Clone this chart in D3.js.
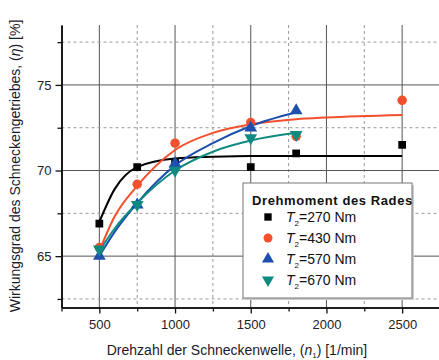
<!DOCTYPE html>
<html>
<head>
<meta charset="utf-8">
<script src="https://cdn.jsdelivr.net/npm/d3@7"></script>
<style>
  body { margin: 0; background: #fff; }
  svg { display: block; font-family: "Liberation Sans", Arial, sans-serif; }
</style>
</head>
<body>
<svg id="chart" width="439" height="360"></svg>
<script>
// measured points
var speeds = [500, 750, 1000, 1500, 1800, 2500];
var t270 = [66.9, 70.2, 70.5, 70.2, 71.0, 71.5];
var t430 = [65.5, 69.2, 71.6, 72.8, 72.0, 74.1];
var t570 = [65.0, 68.0, 70.4, 72.5, 73.5];
var t670 = [65.4, 68.0, 70.0, 71.9, 72.1];

// fitted curves
var fitX = [500, 600, 750, 1000, 1250, 1500, 1800, 2000, 2500];
var fit270 = [67.0, 68.9, 70.2, 70.7, 70.8, 70.85, 70.85, 70.85, 70.85];
var fit430 = [65.3, 67.3, 69.1, 71.2, 72.2, 72.7, 73.0, 73.1, 73.25];
var fit570 = [65.0, 66.4, 68.1, 70.3, 71.6, 72.6, 73.4];
var fit670 = [65.3, 66.6, 68.1, 70.0, 71.1, 71.75, 72.2];

var xTicks = [500, 1000, 1500, 2000, 2500];
var xMinor = [250, 750, 1250, 1750, 2250, 2750];
var yTicks = [65, 70, 75];
var yMinor = [62.5, 67.5, 72.5, 77.5];

var series = [
  {label: "270", pts: t270, fit: fit270, color: "#000000", sym: d3.symbolSquare, size: 60, rot: 0},
  {label: "430", pts: t430, fit: fit430, color: "#f2502d", sym: d3.symbolCircle, size: 70, rot: 0},
  {label: "570", pts: t570, fit: fit570, color: "#1c4fae", sym: d3.symbolTriangle, size: 70, rot: 0},
  {label: "670", pts: t670, fit: fit670, color: "#0f8a80", sym: d3.symbolTriangle, size: 70, rot: 180}
];

var svg = d3.select("#chart"),
    mLeft = 61.5, mRight = 440, mTop = 25, mBottom = 307.5;

var x = d3.scaleLinear().domain([250, 2750]).range([mLeft, mRight]);
var y = d3.scaleLinear().domain([62, 78.5]).range([mBottom, mTop]);

// grid
var grid = svg.append("g");
grid.selectAll(".vmaj").data(xTicks).enter().append("line")
  .attr("x1", d => x(d)).attr("x2", d => x(d))
  .attr("y1", mTop).attr("y2", mBottom)
  .attr("stroke", "#555").attr("stroke-width", 1);
grid.selectAll(".vmin").data(xMinor.slice(1)).enter().append("line")
  .attr("x1", d => x(d)).attr("x2", d => x(d))
  .attr("y1", mTop).attr("y2", mBottom)
  .attr("stroke", "#999").attr("stroke-width", 1).attr("stroke-dasharray", "3,3");
grid.selectAll(".hmaj").data(yTicks).enter().append("line")
  .attr("x1", mLeft).attr("x2", mRight)
  .attr("y1", d => y(d)).attr("y2", d => y(d))
  .attr("stroke", "#555").attr("stroke-width", 1);
grid.selectAll(".hmin").data(yMinor).enter().append("line")
  .attr("x1", mLeft).attr("x2", mRight)
  .attr("y1", d => y(d)).attr("y2", d => y(d))
  .attr("stroke", "#999").attr("stroke-width", 1).attr("stroke-dasharray", "3,3");

// axes
svg.append("g")
  .attr("transform", "translate(0," + mBottom + ")")
  .call(d3.axisBottom(x).tickValues(xTicks).tickFormat(d3.format("d")).tickSize(6).tickSizeOuter(0).tickPadding(6));
svg.append("g")
  .attr("transform", "translate(0," + mBottom + ")")
  .call(d3.axisBottom(x).tickValues(xMinor).tickSize(4).tickFormat("").tickSizeOuter(0));
var yAxis = svg.append("g")
  .attr("transform", "translate(" + mLeft + ",0)")
  .call(d3.axisLeft(y).tickValues(yTicks).tickSize(6).tickSizeOuter(0).tickPadding(4));
svg.append("g")
  .attr("transform", "translate(" + mLeft + ",0)")
  .call(d3.axisLeft(y).tickValues(yMinor).tickSize(4).tickFormat("").tickSizeOuter(0));

svg.selectAll(".domain").attr("stroke", "#111").attr("stroke-width", 1.6);
svg.selectAll(".tick line").attr("stroke", "#111").attr("stroke-width", 1.3);
svg.selectAll(".tick text").attr("font-size", 13).attr("fill", "#222")
  .attr("font-family", "Liberation Sans, Arial, sans-serif");

// curves
var line = d3.line().curve(d3.curveMonotoneX);
series.forEach(function(s) {
  svg.append("path")
    .datum(s.fit.map((v, i) => [x(fitX[i]), y(v)]))
    .attr("fill", "none").attr("stroke", s.color).attr("stroke-width", 2)
    .attr("d", line);
});

// markers
series.forEach(function(s) {
  svg.append("g").selectAll("path").data(s.pts).enter().append("path")
    .attr("d", d3.symbol().type(s.sym).size(s.size))
    .attr("transform", (d, i) => "translate(" + x(speeds[i]) + "," + y(d) + ") rotate(" + s.rot + ")")
    .attr("fill", s.color);
});

// legend
var lg = svg.append("g").attr("transform", "translate(243,183)");
lg.append("rect").attr("x", 2).attr("y", 2).attr("width", 169).attr("height", 115).attr("fill", "#ccc");
lg.append("rect").attr("width", 169).attr("height", 115)
  .attr("fill", "#fff").attr("stroke", "#777").attr("stroke-width", 1);
lg.append("text").attr("x", 9).attr("y", 22)
  .attr("font-size", 13).attr("font-weight", "bold").attr("letter-spacing", 0.6)
  .attr("fill", "#111").text("Drehmoment des Rades");
series.forEach(function(s, i) {
  var yy = 34 + i * 21;
  lg.append("path")
    .attr("d", d3.symbol().type(s.sym).size(s.size * 0.9))
    .attr("transform", "translate(25," + yy + ") rotate(" + s.rot + ")")
    .attr("fill", s.color);
  var t = lg.append("text").attr("x", 43).attr("y", yy + 5).attr("font-size", 14).attr("fill", "#111");
  t.append("tspan").attr("font-style", "italic").text("T");
  t.append("tspan").attr("font-size", 8).attr("dy", 4).text("2");
  t.append("tspan").attr("dy", -4).text("=" + s.label + " Nm");
});

// axis titles
var xt = svg.append("text").attr("x", 237).attr("y", 355)
  .attr("text-anchor", "middle").attr("font-size", 14).attr("fill", "#1a1a2a");
xt.append("tspan").text("Drehzahl der Schneckenwelle, (");
xt.append("tspan").attr("font-style", "italic").text("n");
xt.append("tspan").attr("font-size", 8).attr("dy", 3).text("1");
xt.append("tspan").attr("dy", -3).text(") [1/min]");

var yt = svg.append("text")
  .attr("transform", "translate(20,166) rotate(-90)")
  .attr("text-anchor", "middle").attr("font-size", 14).attr("fill", "#1a1a2a");
yt.append("tspan").text("Wirkungsgrad des Schneckengetriebes, (");
yt.append("tspan").attr("font-style", "italic").text("η");
yt.append("tspan").text(") [%]");
</script>
</body>
</html>
